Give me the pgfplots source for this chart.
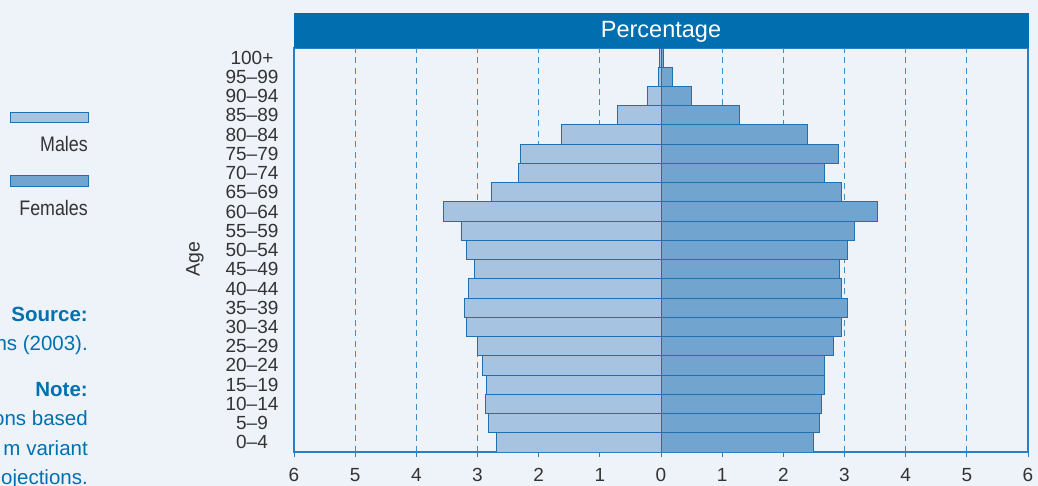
\documentclass[border=0pt]{standalone}
\usepackage{fontspec}
\setmainfont{Liberation Sans}
\newfontfamily\narrowfont[FakeStretch=0.85]{Liberation Sans}
\usepackage{pgfplots}
\pgfplotsset{compat=1.18}

\definecolor{bg}{HTML}{EEF3FA}
\definecolor{titlebar}{HTML}{006EAF}
\definecolor{frame}{HTML}{2A7FC2}
\definecolor{gridc}{HTML}{3C8DCB}
\definecolor{malefill}{HTML}{A6C3E2}
\definecolor{femalefill}{HTML}{71A4CF}
\definecolor{baredge}{HTML}{1E70B0}
\definecolor{txt}{HTML}{333333}
\definecolor{srcblue}{HTML}{0070B0}

% males stored as negative values (left side of the pyramid)
\pgfplotstableread{
age  males  females
0    -2.69  2.50
1    -2.82  2.59
2    -2.87  2.63
3    -2.86  2.68
4    -2.92  2.68
5    -3.00  2.82
6    -3.18  2.95
7    -3.22  3.04
8    -3.14  2.95
9    -3.05  2.91
10   -3.18  3.04
11   -3.27  3.17
12   -3.55  3.54
13   -2.78  2.95
14   -2.33  2.68
15   -2.29  2.90
16   -1.62  2.40
17   -0.71  1.28
18   -0.22  0.50
19   -0.04  0.19
20   -0.02  0.04
}\pyramid

\begin{document}
\begin{tikzpicture}[x=1pt,y=1pt]
\useasboundingbox (0,0) rectangle (1038,486);
\clip (0,0) rectangle (1038,486);
\fill[bg] (0,0) rectangle (1038,486);

% legend swatches
\filldraw[fill=malefill, draw=baredge, line width=1pt] (10,363) rectangle (88,373);
\filldraw[fill=femalefill, draw=baredge, line width=1pt] (10,299) rectangle (88,310);
\node[anchor=base east, inner sep=0pt, text=txt, font=\narrowfont\fontsize{21}{21}\selectfont] at (88,334) {Males};
\node[anchor=base east, inner sep=0pt, text=txt, font=\narrowfont\fontsize{21}{21}\selectfont] at (88,270) {Females};

% source / note (cut off at the left edge in the original)
\begin{scope}[every node/.style={anchor=base east, inner sep=0pt, text=srcblue, font=\fontsize{20.5}{20.5}\selectfont}]
\node[font=\bfseries\fontsize{20.5}{20.5}\selectfont] at (88,164) {Source:};
\node at (88,135) {ns (2003).};
\node[font=\bfseries\fontsize{20.5}{20.5}\selectfont] at (88,89) {Note:};
\node at (88,60) {ons based};
\node at (88,30) {m variant};
\node at (88,1) {ojections.};
\end{scope}

\begin{axis}[
    at={(294pt,34pt)}, anchor=south west,
    scale only axis,
    width=734pt, height=404pt,
    xmin=-6, xmax=6,
    ymin=-0.5, ymax=20.5,
    xbar, bar width=19.24pt, bar shift=0pt,
    axis line style={frame, line width=1.2pt},
    xtick={-6,-5,-4,-3,-2,-1,0,1,2,3,4,5,6},
    xticklabels={6,5,4,3,2,1,0,1,2,3,4,5,6},
    extra x ticks={-5,-4,-3,-2,-1,1,2,3,4,5},
    extra x tick labels={},
    extra x tick style={xmajorgrids=true, major tick length=0pt},
    major grid style={gridc, line width=1pt, dash pattern=on 6pt off 4.5pt},
    xtick pos=lower, ytick pos=left,
    tick align=outside,
    major tick length=5pt,
    xtick style={frame, line width=1pt},
    ytick style={draw=none},
    ytick={0,...,20},
    yticklabels={0–4,5–9,10–14,15–19,20–24,25–29,30–34,35–39,40–44,45–49,50–54,55–59,60–64,65–69,70–74,75–79,80–84,85–89,90–94,95–99,100+},
    ticklabel style={text=txt, font=\fontsize{19}{19}\selectfont},
    /pgf/number format/assume math mode=true,
    yticklabel style={anchor=center, xshift=-37pt},
    xticklabel style={anchor=base, yshift=-25pt},
]
\addplot[fill=malefill, draw=baredge, line width=0.9pt] table[x=males, y=age] {\pyramid};
\addplot[fill=femalefill, draw=baredge, line width=0.9pt] table[x=females, y=age] {\pyramid};
\end{axis}

% axis label
\node[rotate=90, text=txt, font=\fontsize{19.5}{19.5}\selectfont] at (195,227) {Age};

% title bar
\fill[titlebar] (293.5,438) rectangle (1028.5,473);
\node[anchor=base, inner sep=0pt, text=white, font=\fontsize{23.5}{23.5}\selectfont] at (661,448) {Percentage};
\end{tikzpicture}
\end{document}
